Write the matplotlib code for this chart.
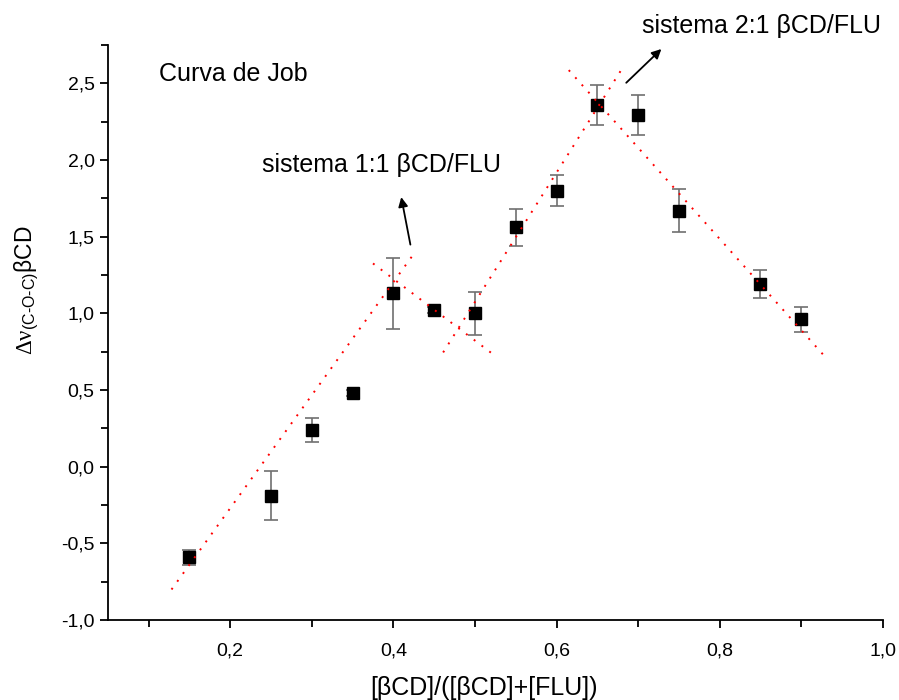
import numpy as np
import matplotlib
matplotlib.use('Agg')
import matplotlib.pyplot as plt
from matplotlib.ticker import FuncFormatter, MultipleLocator

plt.rcParams['font.family'] = ['Liberation Sans', 'DejaVu Sans']
plt.rcParams['mathtext.fontset'] = 'custom'
plt.rcParams['mathtext.rm'] = 'Liberation Serif'
plt.rcParams['mathtext.it'] = 'Liberation Serif:italic'
plt.rcParams['mathtext.sf'] = 'Liberation Sans'

# data
ratio = [0.15, 0.25, 0.30, 0.35, 0.40, 0.45, 0.50, 0.55, 0.60, 0.65, 0.70, 0.75, 0.85, 0.90]
dnu = [-0.59, -0.19, 0.24, 0.48, 1.13, 1.02, 1.00, 1.56, 1.80, 2.36, 2.29, 1.67, 1.19, 0.96]
dnu_err = [0.05, 0.16, 0.08, 0.02, 0.23, 0.02, 0.14, 0.12, 0.10, 0.13, 0.13, 0.14, 0.09, 0.08]

# dotted guide lines (start x, start y, end x, end y)
guide_x = [[0.128, 0.424], [0.375, 0.523], [0.461, 0.681], [0.615, 0.927]]
guide_y = [[-0.80, 1.38], [1.325, 0.73], [0.745, 2.60], [2.585, 0.73]]

fig = plt.figure(figsize=(8.99, 7.0), dpi=100)
ax = fig.add_axes([0.120, 0.114, 0.862, 0.822])

for gx, gy in zip(guide_x, guide_y):
    ax.plot(gx, gy, color='red', linestyle=(0, (1, 4)), linewidth=1.4, zorder=3)

ax.errorbar(ratio, dnu, yerr=dnu_err, fmt='s', color='black', markersize=8.5,
            ecolor='#707070', elinewidth=1.2, capsize=5, capthick=1.2, zorder=2)

ax.set_xlim(0.05, 1.0)
ax.set_ylim(-1.0, 2.75)

ax.spines['top'].set_visible(False)
ax.spines['right'].set_visible(False)
ax.spines['left'].set_linewidth(1.3)
ax.spines['bottom'].set_linewidth(1.3)

ax.xaxis.set_major_locator(MultipleLocator(0.2))
ax.xaxis.set_minor_locator(MultipleLocator(0.1))
ax.yaxis.set_major_locator(MultipleLocator(0.5))
ax.yaxis.set_minor_locator(MultipleLocator(0.25))
comma = FuncFormatter(lambda v, p: f'{v:.1f}'.replace('.', ','))
ax.xaxis.set_major_formatter(comma)
ax.yaxis.set_major_formatter(comma)
ax.tick_params(which='both', direction='out', width=1.3, labelsize=14)
ax.tick_params(which='major', length=6)
ax.tick_params(which='minor', length=5)
ax.tick_params(axis='x', pad=10)

ax.set_xlabel('[βCD]/([βCD]+[FLU])', fontsize=18)
ax.xaxis.set_label_coords(0.486, -0.097)
ax.set_ylabel(r'$\mathrm{\Delta\nu}_{\mathsf{(C‐O‐C)}}$βCD', fontsize=16.5)
ax.yaxis.set_label_coords(-0.088, 0.573)

ax.text(0.1123, 2.56, 'Curva de Job', fontsize=18, ha='left', va='center')
ax.text(0.386, 1.965, 'sistema 1:1 βCD/FLU', fontsize=18, ha='center', va='center')
ax.text(0.851, 2.87, 'sistema 2:1 βCD/FLU', fontsize=18, ha='center', va='center', clip_on=False)

arrow = dict(arrowstyle='-|>', color='black', lw=1.3, mutation_scale=14)
ax.annotate('', xy=(0.409, 1.775), xytext=(0.4215, 1.43), arrowprops=arrow)
ax.annotate('', xy=(0.731, 2.735), xytext=(0.683, 2.49), arrowprops=arrow,
            annotation_clip=False)

plt.savefig('out.png', dpi=100)
